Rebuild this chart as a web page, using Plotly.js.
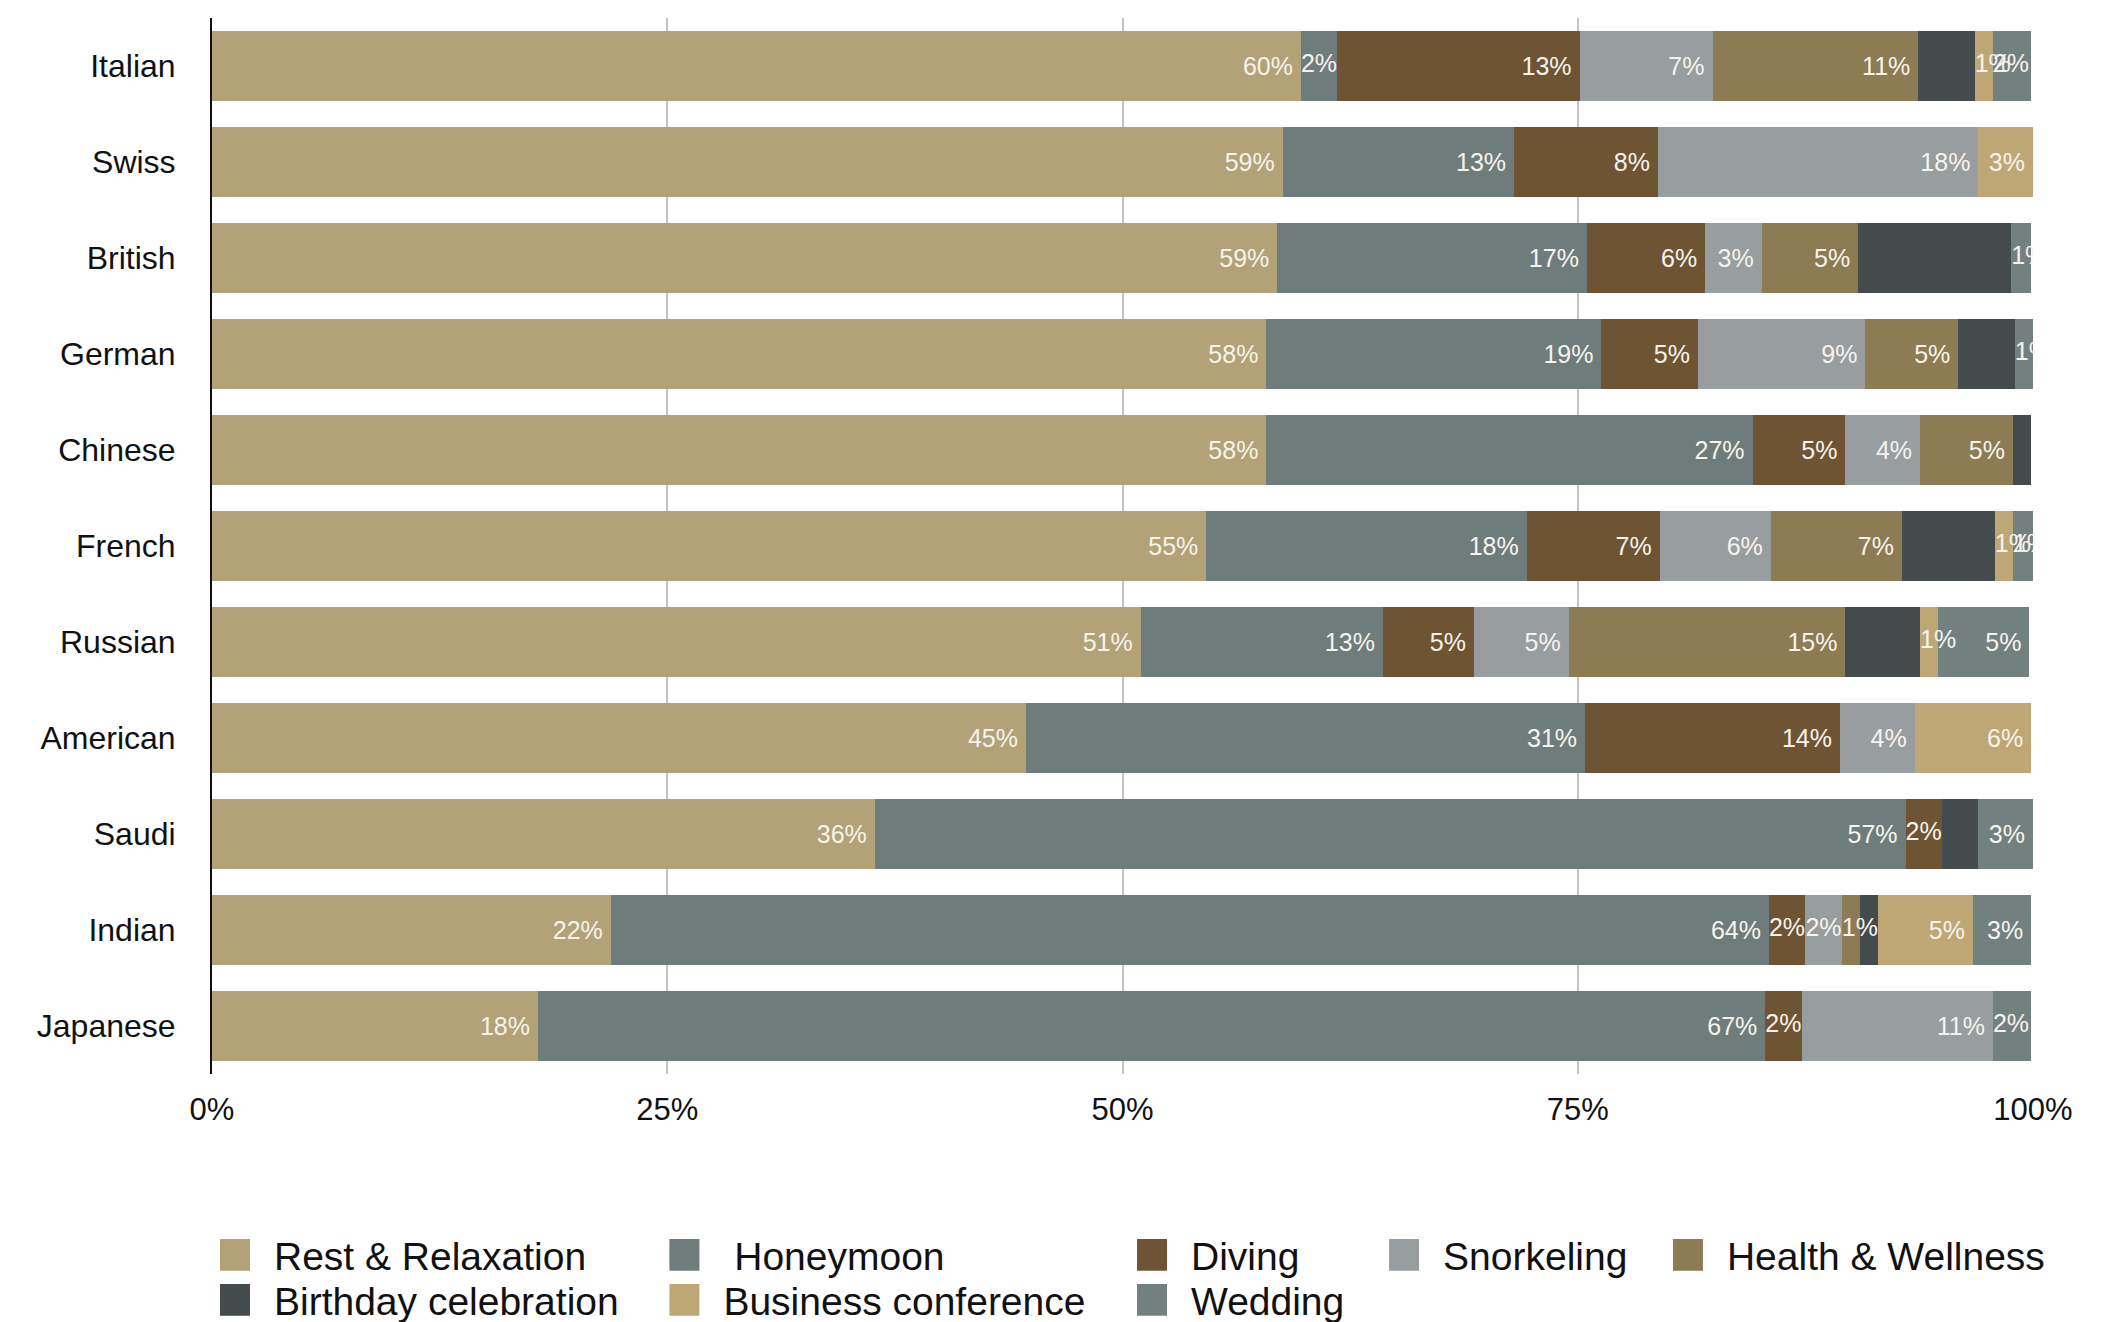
<!DOCTYPE html>
<html>
<head>
<meta charset="utf-8">
<script src="https://cdn.plot.ly/plotly-3.0.1.min.js"></script>
<style>
  html, body { margin: 0; padding: 0; background: #ffffff; }
  #chart { width: 2115px; height: 1322px; }
  .legendpoints path {
    transform-box: fill-box;
    transform-origin: center;
    transform: translate(39px, 0px) scale(2.5, 2.65);
  }
</style>
</head>
<body>
<div id="chart"></div>
<script>
// Categories (top to bottom)
const nationalities = ["Italian", "Swiss", "British", "German", "Chinese", "French", "Russian", "American", "Saudi", "Indian", "Japanese"];

// Series values (% of visitors)
const restRelaxation   = [59.8, 58.8, 58.5, 57.9, 57.9, 54.6, 51.0, 44.7, 36.4, 21.9, 17.9];
const honeymoon        = [2.0, 12.7, 17.0, 18.4, 26.7, 17.6, 13.3, 30.7, 56.6, 63.6, 67.4];
const diving           = [13.3, 7.9, 6.5, 5.3, 5.1, 7.3, 5.0, 14.0, 2.0, 2.0, 2.0];
const snorkeling       = [7.3, 17.6, 3.1, 9.2, 4.1, 6.1, 5.2, 4.1, 0, 2.0, 10.5];
const healthWellness   = [11.3, 0, 5.3, 5.1, 5.1, 7.2, 15.2, 0, 0, 1.0, 0];
const birthday         = [3.1, 0, 8.4, 3.1, 1.0, 5.1, 4.1, 0, 2.0, 1.0, 0];
const businessConf     = [1.0, 3.0, 0, 0, 0, 1.0, 1.0, 6.4, 0, 5.2, 0];
const wedding          = [2.1, 0, 1.1, 1.0, 0, 1.1, 5.0, 0, 3.0, 3.2, 2.1];

// Segment labels as printed on the chart
const restRelaxationLbl = ["60%", "59%", "59%", "58%", "58%", "55%", "51%", "45%", "36%", "22%", "18%"];
const honeymoonLbl      = ["2%", "13%", "17%", "19%", "27%", "18%", "13%", "31%", "57%", "64%", "67%"];
const divingLbl         = ["13%", "8%", "6%", "5%", "5%", "7%", "5%", "14%", "2%", "2%", "2%"];
const snorkelingLbl     = ["7%", "18%", "3%", "9%", "4%", "6%", "5%", "4%", "", "2%", "11%"];
const healthWellnessLbl = ["11%", "", "5%", "5%", "5%", "7%", "15%", "", "", "1%", ""];
const birthdayLbl       = ["", "", "", "", "", "", "", "", "", "", ""];
const businessConfLbl   = ["1%", "3%", "", "", "", "1%", "1%", "6%", "", "5%", ""];
const weddingLbl        = ["2%", "", "1%", "1%", "", "1%", "5%", "", "3%", "3%", "2%"];

const xTickVals  = [0, 25, 50, 75, 100];
const xTickText  = ["0%", "25%", "50%", "75%", "100%"];

const series = [
  {name: "Rest & Relaxation",    v: restRelaxation, t: restRelaxationLbl, c: "#b3a277", lg: "legend",  lx: -0.0088, ly: -0.1714},
  {name: " Honeymoon",           v: honeymoon,      t: honeymoonLbl,      c: "#6f7c7c", lg: "legend2", lx: 0.2380,  ly: -0.1714},
  {name: "Diving",               v: diving,         t: divingLbl,         c: "#6f5434", lg: "legend3", lx: 0.4948,  ly: -0.1714},
  {name: "Snorkeling",           v: snorkeling,     t: snorkelingLbl,     c: "#989da0", lg: "legend4", lx: 0.6332,  ly: -0.1714},
  {name: "Health & Wellness",    v: healthWellness, t: healthWellnessLbl, c: "#8c7b53", lg: "legend5", lx: 0.7891,  ly: -0.1714},
  {name: "Birthday celebration", v: birthday,       t: birthdayLbl,       c: "#434b4d", lg: "legend6", lx: -0.0088, ly: -0.2140},
  {name: "Business conference",  v: businessConf,   t: businessConfLbl,   c: "#bea774", lg: "legend7", lx: 0.2380,  ly: -0.2140},
  {name: "Wedding",              v: wedding,        t: weddingLbl,        c: "#738080", lg: "legend8", lx: 0.4948,  ly: -0.2140}
];

const FONT = "'Liberation Sans', Arial, 'DejaVu Sans', sans-serif";
const LABEL_FONT = {family: FONT, size: 25, color: "#f6f3ec"};
// Segments narrower than this get their label written from the segment start
const NARROW = 2.6;

const traces = series.map(s => ({
  type: "bar",
  orientation: "h",
  name: s.name,
  y: nationalities,
  x: s.v,
  text: s.t.map((t, i) => (s.v[i] >= NARROW && t ? t + "\u2009" : "")),
  textposition: "inside",
  insidetextanchor: "end",
  textangle: 0,
  constraintext: "none",
  textfont: LABEL_FONT,
  marker: {color: s.c, line: {width: 0}},
  legend: s.lg,
  hoverinfo: "name+x"
}));

// Labels of narrow segments, placed at the start of their stacked segment
const narrowX = [], narrowY = [], narrowT = [];
const cum = nationalities.map(() => 0);
series.forEach(s => {
  s.v.forEach((v, i) => {
    if (v < NARROW && v > 0 && s.t[i]) {
      narrowX.push(cum[i]);
      narrowY.push(nationalities[i]);
      narrowT.push(s.t[i]);
    }
    cum[i] += v;
  });
});
traces.push({
  type: "scatter",
  mode: "text",
  x: narrowX,
  y: narrowY,
  text: narrowT,
  textposition: "middle right",
  textfont: LABEL_FONT,
  cliponaxis: true,
  showlegend: false,
  hoverinfo: "skip"
});

const layout = {
  width: 2115,
  height: 1322,
  paper_bgcolor: "#ffffff",
  plot_bgcolor: "#ffffff",
  barmode: "stack",
  bargap: 0.27,
  margin: {l: 212, r: 82, t: 18, b: 248, autoexpand: false},
  font: {family: FONT, color: "#111111"},
  xaxis: {
    range: [0, 100],
    autorange: false,
    tickvals: xTickVals,
    ticktext: xTickText,
    tickfont: {family: FONT, size: 31, color: "#111111"},
    showgrid: true,
    gridcolor: "#c4c4c4",
    gridwidth: 2,
    zeroline: false,
    showline: false,
    ticks: "",
    ticklabelstandoff: 14,
    fixedrange: true
  },
  yaxis: {
    type: "category",
    categoryorder: "array",
    categoryarray: nationalities,
    autorange: false,
    range: [nationalities.length - 0.5, -0.5],
    tickfont: {family: FONT, size: 32, color: "#111111"},
    showgrid: false,
    zeroline: false,
    showline: true,
    linecolor: "#111111",
    linewidth: 2,
    ticks: "",
    ticklabelstandoff: 28,
    fixedrange: true
  },
  showlegend: true
};

series.forEach(s => {
  layout[s.lg] = {
    x: s.lx,
    y: s.ly,
    xanchor: "left",
    yanchor: "middle",
    orientation: "v",
    itemwidth: 68,
    bgcolor: "rgba(0,0,0,0)",
    borderwidth: 0,
    font: {family: FONT, size: 39, color: "#111111"}
  };
});

Plotly.newPlot("chart", traces, layout, {displayModeBar: false, staticPlot: true});
</script>
</body>
</html>
